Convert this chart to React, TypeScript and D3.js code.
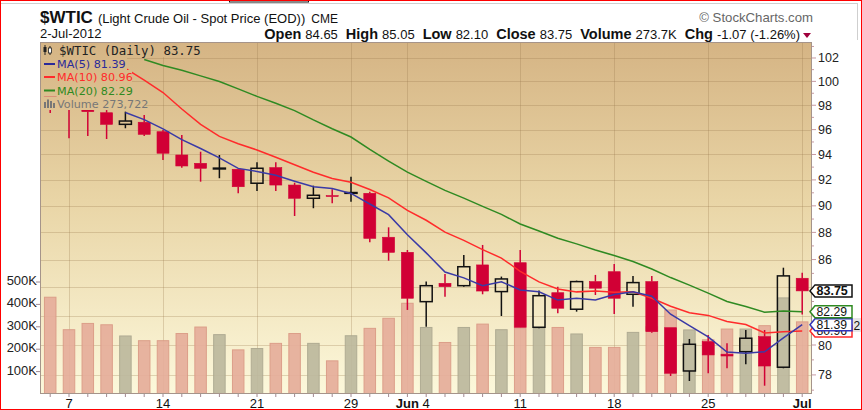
import * as d3 from 'd3';

// trading days shown on the chart
const dates = [
  '2012-05-04', '2012-05-07', '2012-05-08', '2012-05-09', '2012-05-10', '2012-05-11',
  '2012-05-14', '2012-05-15', '2012-05-16', '2012-05-17', '2012-05-18',
  '2012-05-21', '2012-05-22', '2012-05-23', '2012-05-24', '2012-05-25',
  '2012-05-29', '2012-05-30', '2012-05-31', '2012-06-01',
  '2012-06-04', '2012-06-05', '2012-06-06', '2012-06-07', '2012-06-08',
  '2012-06-11', '2012-06-12', '2012-06-13', '2012-06-14', '2012-06-15',
  '2012-06-18', '2012-06-19', '2012-06-20', '2012-06-21', '2012-06-22',
  '2012-06-25', '2012-06-26', '2012-06-27', '2012-06-28', '2012-06-29',
  '2012-07-02',
];

const opens = [
  99.6, 98.4, 98.1, 97.38, 96.43, 96.6, 95.83, 93.96, 93.3, 92.88, 92.83, 91.74, 92.96, 91.6,
  90.58, 90.78, 90.98, 90.96, 87.64, 86.53, 82.99, 84.29, 84.12, 85.61, 83.7, 85.77, 81.21,
  83.62, 82.46, 84.41, 85.12, 83.51, 84.41, 81.18, 78.26, 80.23, 79.38, 79.55, 80.57, 78.51, 84.65,
];
const highs = [
  100.2, 98.7, 98.3, 97.6, 97.47, 97.2, 95.97, 95.57, 94.22, 93.96, 92.85, 93.38, 93.38, 91.78,
  91.55, 91.27, 92.25, 91.09, 88.38, 86.7, 84.41, 84.96, 86.33, 87.07, 84.77, 86.7, 83.77,
  84.05, 84.48, 84.89, 85.68, 84.81, 84.81, 81.18, 80.41, 80.68, 80.12, 81.02, 81.02, 85.41, 85.05,
];
const lows = [
  97.36, 95.3, 95.48, 95.24, 96.11, 95.48, 93.56, 92.96, 91.86, 92.13, 90.96, 91.14, 91.14, 89.23,
  89.82, 90.2, 90.32, 87.27, 85.92, 82.41, 81.25, 83.34, 84.05, 83.51, 81.99, 81.21, 81.14,
  82.18, 82.29, 83.46, 82.13, 82.64, 80.84, 77.93, 77.6, 78.11, 78.44, 78.71, 77.29, 78.44, 82.1,
];
const closes = [
  98.5, 97.9, 97.47, 96.43, 96.7, 95.62, 94.1, 93.09, 92.91, 92.92, 91.47, 92.91, 91.6, 90.58,
  90.81, 90.74, 91.02, 87.56, 86.53, 83.23, 84.12, 84.05, 85.48, 83.74, 84.6, 81.21, 83.41,
  82.53, 84.41, 83.94, 83.23, 84.34, 80.91, 78.11, 80.05, 79.33, 79.26, 80.46, 78.59, 84.82, 83.75,
];
const volumes = [
  432000, 287000, 315000, 309000, 259000, 238000, 238000, 270000, 299000, 265000, 197000,
  203000, 226000, 270000, 226000, 148000, 260000, 293000, 338000, 405000, 297000, 230000,
  297000, 312000, 287000, 295000, 295000, 297000, 268000, 208000, 208000, 275000, 300000,
  375000, 286000, 242000, 290000, 290000, 305000, 429000, 322000,
];

const ma5 = [
  null, null, null, null, 97.4, 96.82, 96.06, 95.19, 94.48, 93.73, 92.9, 92.66, 92.36, 91.9,
  91.47, 91.33, 90.95, 90.14, 89.33, 87.82, 86.49, 85.1, 84.68, 84.12, 84.4, 83.82, 83.69,
  83.1, 83.23, 83.1, 83.5, 83.69, 83.37, 82.11, 81.33, 80.55, 79.53, 79.44, 79.54, 80.49, 81.39,
];
const ma10 = [
  null, null, null, null, 101.11, 100.11, 99.06, 97.69, 96.43, 95.45, 94.86, 94.36, 93.78,
  93.19, 92.6, 92.11, 91.81, 91.25, 90.61, 89.65, 88.91, 88.02, 87.41, 86.73, 86.11, 85.15,
  84.39, 83.89, 83.68, 83.75, 83.66, 83.69, 83.23, 82.67, 82.21, 82.03, 81.61, 81.4, 80.82,
  80.91, 80.96,
];
const ma20 = [
  null, null, null, null, null, 101.87, 101.35, 100.95, 100.47, 99.99, 99.37, 98.74, 98.16,
  97.56, 96.79, 96.07, 95.4, 94.41, 93.48, 92.6, 91.89, 91.19, 90.59, 89.96, 89.35, 88.63,
  88.1, 87.57, 87.15, 86.7, 86.29, 85.86, 85.32, 84.7, 84.16, 83.59, 83.0, 82.65, 82.25,
  82.33, 82.29,
];

const priceTicks = [78, 80, 82, 84, 86, 88, 90, 92, 94, 96, 98, 100, 102];
const volumeTicks = [100000, 200000, 300000, 400000, 500000];
const volumeTickLabels = ['100K', '200K', '300K', '400K', '500K'];
const tickDates = [
  '2012-05-07', '2012-05-14', '2012-05-21', '2012-05-29', '2012-06-01',
  '2012-06-04', '2012-06-11', '2012-06-18', '2012-06-25', '2012-07-02',
];
const tickLabels = ['7', '14', '21', '29', 'Jun', '4', '11', '18', '25', 'Jul'];
const monthTicks = ['Jun', 'Jul'];
const gridDates = [
  '2012-05-07', '2012-05-14', '2012-05-21', '2012-05-29', '2012-06-01',
  '2012-06-11', '2012-06-18', '2012-06-25', '2012-07-02',
];

const W = 862;
const H = 410;
const L = 40;
const R = 812;
const T = 42;
const B = 394;
const SANS = '"Liberation Sans", Arial, sans-serif';

const RED = '#d10035';
const BLUE_MA = '#3a3aa6';
const RED_MA = '#ff2b2b';
const GREEN_MA = '#2f8a22';

export default function App() {
  const x = d3.scalePoint<string>().domain(dates).range([50.2, 802.2]);
  const y = d3.scaleLog().domain([76.75, 103.39]).range([B, T]);
  const yv = d3.scaleLinear().domain([0, 500000]).range([B, 282]);

  const maLine = d3
    .line<number | null>()
    .defined((v) => v != null)
    .x((_, i) => x(dates[i]) as number)
    .y((v) => y(v as number));

  const last = dates.length - 1;
  const boxes = [
    { v: ma10[last] as number, stroke: RED_MA, bold: false },
    { v: ma5[last] as number, stroke: '#3333bb', bold: false },
    { v: ma20[last] as number, stroke: GREEN_MA, bold: false },
    { v: closes[last], stroke: '#111', bold: true },
  ];
  const boxYs = boxes.map((b) => y(b.v));

  const header: [string, boolean][] = [
    ['Open', true], ['84.65', false], ['High', true], ['85.05', false],
    ['Low', true], ['82.10', false], ['Close', true], ['83.75', false],
    ['Volume', true], ['273.7K', false], ['Chg', true], ['-1.07 (-1.26%)', false],
  ];

  return (
    <svg
      width={W}
      height={H}
      style={{ position: 'absolute', left: 0, top: 0, background: '#fff' }}
      fontFamily={SANS}
    >
      <defs>
        <linearGradient id="bg" gradientUnits="userSpaceOnUse" x1={0} y1={T} x2={0} y2={B}>
          <stop offset="0" stopColor="#d5b484" />
          <stop offset="0.45" stopColor="#e9d5a6" />
          <stop offset="1" stopColor="#fcf8db" />
        </linearGradient>
        <clipPath id="plotClip">
          <rect x={L} y={T} width={R - L} height={B - T} />
        </clipPath>
      </defs>

      {/* frame artefacts of the screenshot */}
      <line x1={0} x2={857} y1={3.5} y2={3.5} stroke="#cfcfcf" />
      <line x1={857.5} x2={857.5} y1={3} y2={40} stroke="#cfcfcf" />
      <rect x={229.5} y={-1} width={79} height={3} fill="none" stroke="#111" />

      {/* header */}
      <text x={40} y={22.5} fill="#111">
        <tspan fontWeight="bold" fontSize={17}>$WTIC</tspan>
        <tspan fontSize={13} dx={5}>(Light Crude Oil - Spot Price (EOD))</tspan>
        <tspan fontSize={12} dx={6}>CME</tspan>
      </text>
      <text x={40} y={38} fontSize={13} fill="#111">2-Jul-2012</text>
      <text x={813} y={21.5} fontSize={13.2} fill="#666" textAnchor="end">© StockCharts.com</text>
      <text x={800} y={38.5} textAnchor="end" fill="#111">
        {header.map(([s, b], i) => (
          <tspan
            key={i}
            fontWeight={b ? 'bold' : 'normal'}
            fontSize={b ? 14.5 : 13}
            dx={i === 0 ? 0 : b ? 8 : 4}
          >
            {s}
          </tspan>
        ))}
      </text>
      <path d="M803,33 L811,33 L807,38 Z" fill="#a0003c" />

      {/* plot background + grid */}
      <rect x={L} y={T} width={R - L} height={B - T} fill="url(#bg)" />
      <g stroke="rgba(150,118,76,0.28)" strokeWidth={1}>
        {priceTicks.map((p) => (
          <line key={p} x1={L} x2={R} y1={Math.round(y(p)) + 0.5} y2={Math.round(y(p)) + 0.5} />
        ))}
        {gridDates.map((d) => (
          <line key={d} x1={Math.round(x(d) as number) + 0.5} x2={Math.round(x(d) as number) + 0.5} y1={T} y2={B} />
        ))}
      </g>

      <g clipPath="url(#plotClip)">
        {/* volume */}
        {volumes.map((v, i) => {
          const up = i > 0 && closes[i] > closes[i - 1];
          const cx = x(dates[i]) as number;
          return (
            <rect
              key={i}
              x={cx - 5.75}
              y={yv(v)}
              width={11.5}
              height={B - yv(v)}
              fill={up ? '#bdb99e' : '#e6ae9b'}
              stroke={up ? '#aaa68e' : '#da9884'}
              strokeWidth={1}
              opacity={0.92}
            />
          );
        })}

        {/* candles */}
        {dates.map((d, i) => {
          const cx = x(d) as number;
          const o = opens[i];
          const c = closes[i];
          const col = i > 0 && c >= closes[i - 1] ? '#111' : RED;
          const top = y(Math.max(o, c));
          const bot = y(Math.min(o, c));
          const hollow = c > o;
          const h = Math.max(bot - top, 0.8);
          return (
            <g key={d}>
              <line x1={cx} x2={cx} y1={y(highs[i])} y2={top} stroke={col} strokeWidth={1.5} />
              <line x1={cx} x2={cx} y1={top + h} y2={y(lows[i])} stroke={col} strokeWidth={1.5} />
              <rect
                x={cx - 6}
                y={top}
                width={12}
                height={h}
                fill={hollow ? 'none' : col}
                stroke={col}
                strokeWidth={hollow ? 1.5 : 0.6}
              />
            </g>
          );
        })}

        {/* moving averages */}
        <path d={maLine(ma20) ?? ''} fill="none" stroke={GREEN_MA} strokeWidth={1.5} />
        <path d={maLine(ma10) ?? ''} fill="none" stroke={RED_MA} strokeWidth={1.5} />
        <path d={maLine(ma5) ?? ''} fill="none" stroke={BLUE_MA} strokeWidth={1.5} />
      </g>

      {/* legend, each row on its own patch of background */}
      <g>
        <rect x={41} y={43} width={163} height={14} fill="url(#bg)" />
        <rect x={41} y={57} width={86} height={13} fill="url(#bg)" />
        <rect x={41} y={70} width={91} height={13} fill="url(#bg)" />
        <rect x={41} y={83} width={91} height={13.5} fill="url(#bg)" />
        <rect x={41} y={96.5} width={104} height={13.5} fill="url(#bg)" />

        <line x1={45} x2={45} y1={45} y2={55} stroke="#222" strokeWidth={1} />
        <rect x={43.5} y={47} width={3} height={5} fill="#222" />
        <line x1={50} x2={50} y1={46} y2={55} stroke="#222" strokeWidth={1} />
        <rect x={48.5} y={48} width={3} height={5} fill="#fff" stroke="#222" strokeWidth={0.8} />
        <text x={59} y={55} fontSize={12.4} fontFamily='"DejaVu Sans Mono", monospace' fill="#222">
          $WTIC (Daily) 83.75
        </text>

        <line x1={44} x2={55} y1={64} y2={64} stroke="#2a2a9a" strokeWidth={2} />
        <text x={57} y={68} fontSize={11.2} fontFamily='"DejaVu Sans", sans-serif' fill="#2a2a9a">MA(5) 81.39</text>
        <line x1={44} x2={55} y1={77} y2={77} stroke={RED_MA} strokeWidth={2} />
        <text x={57} y={81} fontSize={11.2} fontFamily='"DejaVu Sans", sans-serif' fill={RED_MA}>MA(10) 80.96</text>
        <line x1={44} x2={55} y1={90.5} y2={90.5} stroke={GREEN_MA} strokeWidth={2} />
        <text x={57} y={94.5} fontSize={11.2} fontFamily='"DejaVu Sans", sans-serif' fill={GREEN_MA}>MA(20) 82.29</text>
        <rect x={44} y={102} width={2} height={6} fill="#777" />
        <rect x={47} y={99.5} width={2} height={8.5} fill="#777" />
        <rect x={50} y={101} width={2} height={7} fill="#777" />
        <rect x={53} y={103} width={2} height={5} fill="#777" />
        <text x={57} y={107.5} fontSize={11.2} fontFamily='"DejaVu Sans", sans-serif' fill="#777">Volume 273,722</text>
      </g>

      {/* plot frame */}
      <rect x={L + 0.5} y={T + 0.5} width={R - L - 1} height={B - T - 1} fill="none" stroke="#a5948a" />

      {/* right price axis */}
      <g>
        {d3.range(77, 104).map((p) => (
          <line key={p} x1={R} x2={R + (p % 2 === 0 ? 4 : 2)} y1={y(p)} y2={y(p)} stroke="#c79aa2" />
        ))}
        {priceTicks
          .filter((p) => boxYs.every((by) => Math.abs(by - y(p)) > 9))
          .map((p) => (
            <text key={p} x={818} y={y(p) + 4.5} fontSize={12.5} fill="#222">{p}</text>
          ))}
      </g>

      {/* left volume axis */}
      <g>
        {volumeTicks.map((v, i) => (
          <g key={v}>
            <line x1={36} x2={L} y1={yv(v)} y2={yv(v)} stroke="#a08890" />
            <text x={37} y={yv(v) + 3} fontSize={13} textAnchor="end" fill="#222">{volumeTickLabels[i]}</text>
          </g>
        ))}
      </g>

      {/* date axis */}
      <g>
        {dates.map((d) => (
          <line key={d} x1={x(d)} x2={x(d)} y1={B} y2={B + 3} stroke="#a08890" />
        ))}
        {tickDates.map((d, i) => (
          <text
            key={d}
            x={x(d)}
            y={408}
            fontSize={13}
            textAnchor="middle"
            fontWeight={monthTicks.includes(tickLabels[i]) ? 'bold' : 'normal'}
            fill="#111"
          >
            {tickLabels[i]}
          </text>
        ))}
      </g>

      {/* last-value tags */}
      <rect x={852} y={318} width={9} height={14} fill="#e6e6e6" />
      <text x={853.5} y={330} fontSize={12} fill="#111">2</text>
      {boxes.map((b, i) => {
        const yc = boxYs[i];
        return (
          <g key={i}>
            <path
              d={`M810,${yc} L815,${yc - 6} L852,${yc - 6} L852,${yc + 6} L815,${yc + 6} Z`}
              fill="#fff"
              stroke={b.stroke}
              strokeWidth={1.5}
            />
            <text x={816.5} y={yc + 4.5} fontSize={b.bold ? 12.5 : 12.2} fontWeight={b.bold ? 'bold' : 'normal'} fill="#111">
              {b.v.toFixed(2)}
            </text>
          </g>
        );
      })}

      <rect x={0.5} y={0.5} width={W - 1} height={H - 1} fill="none" stroke="#ff0000" />
    </svg>
  );
}
